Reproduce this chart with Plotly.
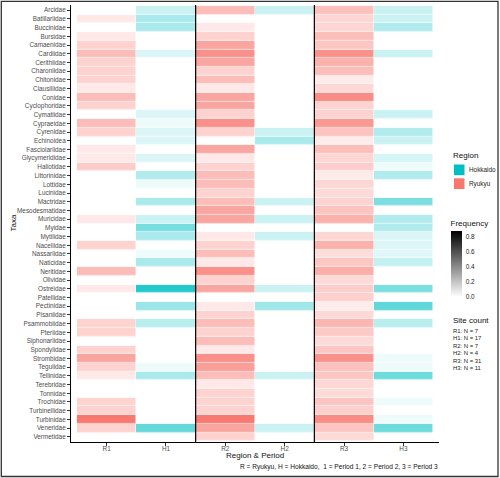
import plotly.graph_objects as go

taxa = ["Arcidae", "Batillariidae", "Buccinidae", "Bursidae", "Camaenidae", "Cardiidae",
        "Cerithiidae", "Charoniidae", "Chitonidae", "Clausiliidae", "Conidae", "Cyclophoridae",
        "Cymatiidae", "Cypraeidae", "Cyrenidae", "Echinoidea", "Fasciolariidae", "Glycymerididae",
        "Haliotidae", "Littorinidae", "Lottidae", "Lucinidae", "Mactridae", "Mesodesmatidae",
        "Muricidae", "Myidae", "Mytilidae", "Nacellidae", "Nassariidae", "Naticidae",
        "Neritidae", "Olividae", "Ostreidae", "Patellidae", "Pectinidae", "Pisaniidae",
        "Psammobiidae", "Pteriidae", "Siphonariidae", "Spondylidae", "Strombidae", "Tegulidae",
        "Tellinidae", "Terebridae", "Tonnidae", "Trochidae", "Turbinellidae", "Turbinidae",
        "Veneridae", "Vermetidae"]

columns = ["R1", "H1", "R2", "H2", "R3", "H3"]
column_region = ["Ryukyu", "Hokkaido", "Ryukyu", "Hokkaido", "Ryukyu", "Hokkaido"]
N = None

R1 = [N, 0.14, N, 0.14, 0.29, 0.43, 0.29, 0.29, 0.29, 0.14,
      0.43, 0.29, N, 0.43, 0.29, N, 0.14, 0.14, 0.33, N,
      N, N, N, N, 0.14, N, N, 0.29, N, N,
      0.43, N, 0.14, N, N, N, 0.29, 0.29, N, 0.29,
      0.57, 0.29, 0.14, N, N, 0.29, 0.29, 0.86, 0.29, N]

H1 = [0.18, 0.29, 0.29, N, N, 0.12, N, N, N, N,
      N, N, 0.12, 0.06, 0.12, 0.12, N, 0.12, N, 0.27,
      0.06, N, 0.29, N, 0.18, 0.47, 0.29, N, 0.06, 0.29,
      N, N, 0.76, N, 0.35, N, 0.24, N, N, N,
      N, 0.06, 0.29, N, N, N, N, N, 0.53, N]

R2 = [0.43, N, 0.14, 0.29, 0.57, 0.71, 0.57, 0.29, 0.43, 0.14,
      0.57, 0.57, 0.29, 0.71, 0.29, N, 0.57, 0.14, 0.29, 0.43,
      0.43, 0.29, 0.43, 0.57, 0.57, N, 0.14, 0.29, 0.43, 0.14,
      0.71, 0.29, 0.57, N, 0.14, 0.29, 0.43, 0.29, 0.43, 0.14,
      0.71, 0.62, 0.43, 0.14, 0.29, 0.29, 0.29, 0.86, 0.57, 0.29]

H2 = [0.18, N, N, N, N, N, N, N, N, N,
      N, N, N, N, 0.18, 0.30, N, N, N, N,
      N, N, 0.18, N, 0.18, N, 0.18, N, N, N,
      N, N, 0.18, N, 0.33, N, N, N, N, N,
      N, N, 0.18, N, N, N, N, N, 0.18, N]

R3 = [0.40, 0.27, 0.27, 0.42, 0.36, 0.70, 0.50, 0.42, 0.13, 0.25,
      0.74, 0.28, 0.28, 0.66, 0.38, 0.12, 0.42, 0.27, 0.32, 0.13,
      0.26, 0.24, 0.28, 0.38, 0.50, N, 0.26, 0.50, 0.22, 0.36,
      0.52, 0.24, 0.32, 0.30, 0.12, 0.25, 0.47, 0.35, 0.24, 0.36,
      0.70, 0.40, 0.36, 0.26, 0.24, 0.37, 0.30, 0.74, 0.37, 0.24]

H3 = [0.18, 0.18, 0.27, N, N, 0.18, N, N, N, N,
      N, N, 0.18, N, 0.27, 0.18, N, 0.15, 0.06, 0.27,
      N, N, 0.45, N, 0.27, 0.27, 0.12, 0.12, 0.11, 0.20,
      N, N, 0.45, N, 0.55, N, 0.24, N, N, N,
      0.06, 0.06, 0.50, N, N, 0.06, N, 0.06, 0.50, N]

site_counts = [7, 17, 7, 4, 31, 11]
region_names = ["Hokkaido", "Ryukyu"]
region_colors = {"Hokkaido": "#00BFC4", "Ryukyu": "#F8766D"}
freq_ticks = [0.0, 0.2, 0.4, 0.6, 0.8]
FMAX = 0.88

col_values = [R1, H1, R2, H2, R3, H3]

FONT = "Liberation Sans, Arial, sans-serif"
W, H = 500, 478
ML, MR, MT, MB = 71, 61, 5, 36
PW, PH = W - ML - MR, H - MT - MB


def px(xp):
    return (xp - ML) / PW


def py(yp):
    return (H - MB - yp) / PH


fig = go.Figure()

for region in ["Ryukyu", "Hokkaido"]:
    z = []
    for i in range(len(taxa)):
        row = []
        for j, c in enumerate(columns):
            row.append(col_values[j][i] if column_region[j] == region else None)
        z.append(row)
    fig.add_trace(go.Heatmap(
        x=columns, y=taxa, z=z,
        colorscale=[[0, "#FFFFFF"], [1, region_colors[region]]],
        zmin=0, zmax=FMAX, showscale=False, xgap=0.5, ygap=0.6,
        hoverongaps=False, name=region,
    ))

# Frequency colour bar (grey scale); len includes the title block on top
fig.add_trace(go.Scatter(
    x=[None], y=[None], mode="markers", showlegend=False,
    marker=dict(
        color=[0], cmin=0, cmax=FMAX,
        colorscale=[[0, "#FFFFFF"], [1, "#000000"]],
        showscale=True,
        colorbar=dict(
            x=px(450.5), xanchor="left", y=py(257.0), yanchor="middle",
            len=79.5, lenmode="pixels", thickness=11, thicknessmode="pixels",
            xpad=0, ypad=0, outlinewidth=0,
            tickvals=freq_ticks, ticktext=[f"{v:.1f}" for v in freq_ticks],
            ticks="outside", ticklen=3, tickcolor="white", tickwidth=0.8,
            tickfont=dict(size=6.4, color="#222", family=FONT),
            title=dict(text="Frequency", side="top", font=dict(size=8, color="#111", family=FONT)),
        ),
    ),
))

shapes = []
# separators between periods
for xb in [1.5, 3.5]:
    shapes.append(dict(type="line", xref="x", yref="paper", x0=xb, x1=xb, y0=0, y1=1,
                       line=dict(color="black", width=1.2)))
# figure border
shapes.append(dict(type="rect", xref="paper", yref="paper",
                   x0=px(1.3), x1=px(498), y0=py(476.5), y1=py(1.3),
                   line=dict(color="#333", width=1.3), fillcolor="rgba(0,0,0,0)"))
# region legend keys
key_y = [164.5, 178.3]
annotations = []
for k, reg in enumerate(region_names):
    shapes.append(dict(type="rect", xref="paper", yref="paper",
                       x0=px(454), x1=px(464.5), y0=py(key_y[k] + 10.7), y1=py(key_y[k]),
                       line=dict(width=0), fillcolor=region_colors[reg]))
    annotations.append(dict(xref="paper", yref="paper", x=px(467.5), y=py(key_y[k] + 5.3),
                            text=reg, showarrow=False, xanchor="left", yanchor="middle", borderpad=0,
                            font=dict(size=6.4, color="#222", family=FONT)))

annotations.append(dict(xref="paper", yref="paper", x=px(451.5), y=py(155), text="Region",
                        showarrow=False, xanchor="left", yanchor="middle", borderpad=0,
                        font=dict(size=8, color="#111", family=FONT)))
annotations.append(dict(xref="paper", yref="paper", x=px(451.5), y=py(320), text="Site count",
                        showarrow=False, xanchor="left", yanchor="middle", borderpad=0,
                        font=dict(size=8, color="#111", family=FONT)))
for k, (c, n) in enumerate(zip(columns, site_counts)):
    annotations.append(dict(xref="paper", yref="paper", x=px(452.5), y=py(330.7 + 7.5 * k),
                            text=f"{c}: N = {n}", showarrow=False, xanchor="left", yanchor="middle",
                            borderpad=0, font=dict(size=5.9, color="#222", family=FONT)))

annotations.append(dict(xref="paper", yref="paper", x=px(13), y=0.5, text="Taxa", textangle=-90,
                        showarrow=False, xanchor="center", yanchor="middle", borderpad=0,
                        font=dict(size=8, color="#111", family=FONT)))
annotations.append(dict(xref="paper", yref="paper", x=0.5, y=py(456), text="Region & Period",
                        showarrow=False, xanchor="center", yanchor="middle", borderpad=0,
                        font=dict(size=8, color="#111", family=FONT)))
annotations.append(dict(xref="paper", yref="paper", x=px(439), y=py(467),
                        text="R = Ryukyu, H = Hokkaido,  1 = Period 1, 2 = Period 2, 3 = Period 3",
                        showarrow=False, xanchor="right", yanchor="middle", borderpad=0,
                        font=dict(size=6.6, color="#111", family=FONT)))

axis_common = dict(showgrid=False, zeroline=False, showline=True, linecolor="black", linewidth=1,
                   ticks="outside", ticklen=3, tickwidth=1, tickcolor="#333",
                   tickfont=dict(size=6.4, color="#4D4D4D", family=FONT))

fig.update_layout(
    width=W, height=H,
    margin=dict(l=ML, r=MR, t=MT, b=MB, autoexpand=False),
    paper_bgcolor="white", plot_bgcolor="white",
    showlegend=False,
    font=dict(family=FONT),
    xaxis=dict(type="category", categoryorder="array", categoryarray=columns,
               range=[-0.6, len(columns) - 0.4], ticklabelstandoff=-3, **axis_common),
    yaxis=dict(type="category", categoryorder="array", categoryarray=taxa,
               range=[len(taxa) - 0.4, -0.6], **axis_common),
    shapes=shapes,
    annotations=annotations,
)

fig.write_html("out.html", config={"displayModeBar": False},
               post_script="document.body.style.margin='0px';document.body.style.overflow='hidden';")
